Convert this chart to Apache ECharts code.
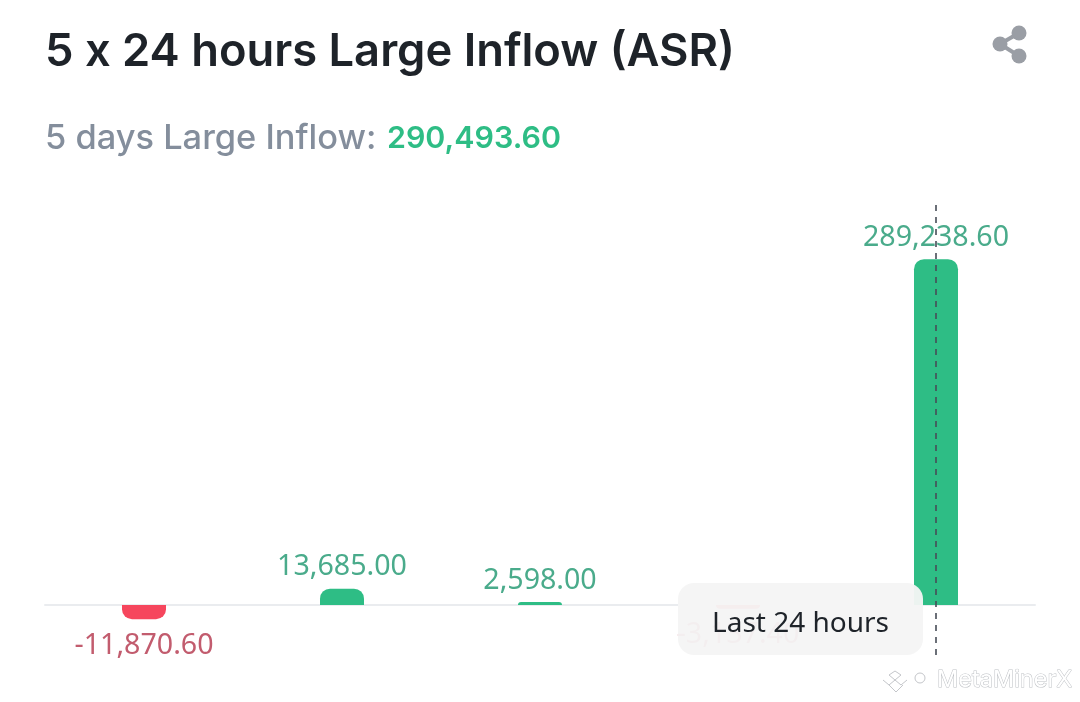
<!DOCTYPE html>
<html><head><meta charset="utf-8">
<style>html,body{margin:0;padding:0;background:#fff}#c{width:1080px;height:702px}</style>
<script src="https://cdn.jsdelivr.net/npm/echarts@6/dist/echarts.min.js"></script>
</head><body><div id="c"></div>
<script>
const categories = ['Day 1','Day 2','Day 3','Day 4','Last 24 hours'];
const inflows = [-11870.60, 13685.00, 2598.00, -3137.40, 289238.60];
const titleText = '5 x 24 hours Large Inflow (ASR)';
const subLabel = '5 days Large Inflow:';
const subValue = '290,493.60';
const tipText = 'Last 24 hours';
const FONT = 'Inter, "Noto Sans", sans-serif';
const NOTO = '"Noto Sans", sans-serif';
const GREEN = '#2ebd85', RED = '#f6465d', GREEN_T = '#4aab8b', RED_T = '#c25c6e';
const yMin = -41800, yMax = 334500;
const fmt = v => v.toLocaleString('en-US',{minimumFractionDigits:2,maximumFractionDigits:2});

const chart = echarts.init(document.getElementById('c'), null, {renderer:'canvas'});
chart.setOption({
  animation:false,
  backgroundColor:'#fff',
  title:[
    {text:titleText,left:45,top:30,padding:0,textStyle:{fontFamily:FONT,fontSize:45.3,fontWeight:600,color:'#1e2329'}},
    {text:`{a|${subLabel}}{b|${subValue}}`,left:45,top:122,padding:0,textStyle:{rich:{
      a:{fontFamily:FONT,fontSize:34.4,fontWeight:500,color:'#848e9c',width:342},
      b:{fontFamily:FONT,fontSize:30.4,fontWeight:600,color:GREEN}}}}
  ],
  grid:{left:45,right:45,top:205,bottom:47,containLabel:false},
  xAxis:{type:'category',data:categories,axisTick:{show:false},axisLabel:{show:false},
    axisLine:{show:true,onZero:true,lineStyle:{color:'#eaecef',width:2}},splitLine:{show:false}},
  yAxis:{type:'value',min:yMin,max:yMax,show:false,splitLine:{show:false}},
  series:[{
    type:'bar',barWidth:44,
    data:inflows.map(v=>({
      value:v,
      itemStyle:{color:v>=0?GREEN:RED,borderRadius:v>=0?[10,10,0,0]:[0,0,10,10]},
      label:{position:v>=0?'top':'bottom',distance:v>=0?7:12,color:v>=0?GREEN_T:RED_T}
    })),
    label:{show:true,fontFamily:NOTO,fontSize:28.6,formatter:p=>fmt(p.value)},
    markLine:{
      silent:true,symbol:'none',z:5,label:{show:false},
      lineStyle:{color:'#474d57',type:[6,6],width:1.6},
      data:[[{xAxis:categories[4],yAxis:yMin},{xAxis:categories[4],yAxis:yMax}]]
    }
  }],
  graphic:[
    {type:'rect',z:50,shape:{x:678,y:583,width:245,height:72,r:16},style:{fill:'rgba(245,245,245,0.96)'}},
    {type:'text',z:51,style:{x:712,y:624,text:tipText,fill:'#1e2329',font:'400 28px '+NOTO,textVerticalAlign:'middle'}},
    {type:'group',z:52,children:[
      {type:'line',shape:{x1:1019,y1:33,x2:1000,y2:44},style:{stroke:'#9a9ea5',lineWidth:4}},
      {type:'line',shape:{x1:1019,y1:56,x2:1000,y2:44},style:{stroke:'#9a9ea5',lineWidth:4}},
      {type:'circle',shape:{cx:1019,cy:33,r:7.5},style:{fill:'#9a9ea5'}},
      {type:'circle',shape:{cx:1000,cy:44,r:7.5},style:{fill:'#9a9ea5'}},
      {type:'circle',shape:{cx:1019,cy:56,r:7.5},style:{fill:'#9a9ea5'}}
    ]},
    {type:'group',z:53,children:[
      {type:'polyline',shape:{points:[[883,680],[889,685],[895,680],[901,685],[907,680]]},style:{fill:'none',stroke:'#c4c6ca',lineWidth:1}},
      {type:'polyline',shape:{points:[[889,675],[895,671],[901,675],[895,680],[889,675]]},style:{fill:'none',stroke:'#c4c6ca',lineWidth:1}},
      {type:'polyline',shape:{points:[[889,685],[896,692],[903,685]]},style:{fill:'none',stroke:'#c4c6ca',lineWidth:1}},
      {type:'circle',shape:{cx:920,cy:678,r:5},style:{fill:'none',stroke:'#c4c6ca',lineWidth:1}},
      {type:'text',style:{x:937,y:680,text:'MetaMinerX',fill:'#fff',stroke:'#bfc2c6',lineWidth:1,font:'400 23.5px '+FONT,textVerticalAlign:'middle'}}
    ]}
  ]
});
</script></body></html>
